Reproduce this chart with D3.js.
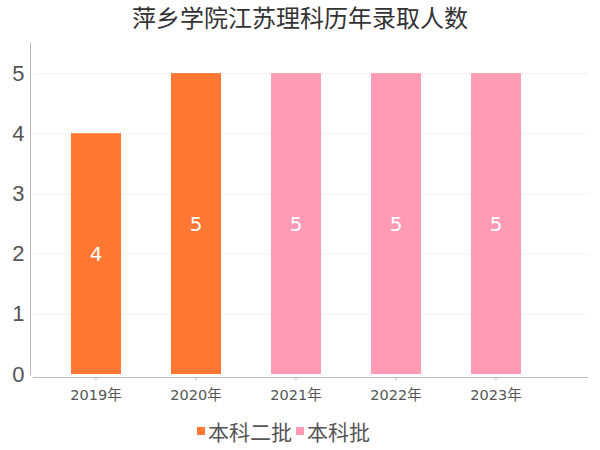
<!DOCTYPE html>
<html>
<head>
<meta charset="utf-8">
<script src="https://cdn.jsdelivr.net/npm/d3@7"></script>
<style>
  body { margin: 0; background: #fff; }
  svg { font-family: "DejaVu Sans", "Noto Sans CJK SC", sans-serif; }
</style>
</head>
<body>
<svg width="600" height="450"></svg>
<script>
const years = ['2019年', '2020年', '2021年', '2022年', '2023年'];
const batches = ['本科二批', '本科二批', '本科批', '本科批', '本科批'];
const counts = [4, 5, 5, 5, 5];
const seriesNames = ['本科二批', '本科批'];
const seriesColors = ['#ff7733', '#ff9bb4'];
const yTicks = [0, 1, 2, 3, 4, 5];

const svg = d3.select('svg');
const color = d3.scaleOrdinal(seriesNames, seriesColors);

const x = d3.scaleBand()
    .domain(years)
    .range([46, 546])
    .paddingInner(0.5)
    .paddingOuter(0.25);

const y = d3.scaleLinear()
    .domain([0, 5.5])
    .range([374, 43]);

// title
svg.append('text')
    .attr('x', 300)
    .attr('y', 27)
    .attr('text-anchor', 'middle')
    .style('font-family', '"Noto Sans CJK SC", sans-serif')
    .style('font-size', '24px')
    .style('fill', '#333')
    .text('萍乡学院江苏理科历年录取人数');

// gridlines
svg.append('g')
    .selectAll('line')
    .data(yTicks.slice(1))
    .enter().append('line')
    .attr('x1', 33).attr('x2', 588)
    .attr('y1', function(d) { return y(d) + 0.5 })
    .attr('y2', function(d) { return y(d) + 0.5 })
    .style('stroke', '#f3f3f3');

// y axis
const yAxis = svg.append('g')
    .attr('transform', 'translate(30.5,0)')
    .call(d3.axisLeft(y).tickValues(yTicks).tickFormat(d3.format('d')).tickSize(0).tickPadding(6));
yAxis.select('.domain').attr('d', 'M0,43V375').style('stroke', '#bbb');
yAxis.selectAll('text')
    .style('font-size', '22px')
    .style('fill', '#555');

// x axis
const xAxis = svg.append('g')
    .attr('transform', 'translate(0,377.5)')
    .call(d3.axisBottom(x).tickSizeInner(3).tickSizeOuter(0).tickPadding(9));
xAxis.select('.domain').attr('d', 'M33,0H588').style('stroke', '#bbb');
xAxis.selectAll('.tick line').style('stroke', '#bbb');
xAxis.selectAll('text')
    .style('font-family', '"DejaVu Sans", "Noto Sans CJK SC", sans-serif')
    .style('font-size', '14.5px')
    .style('fill', '#555');

// bars
const bars = svg.append('g')
    .selectAll('g')
    .data(years)
    .enter().append('g');

bars.append('rect')
    .attr('x', function(d) { return x(d) })
    .attr('width', x.bandwidth())
    .attr('y', function(d, i) { return y(counts[i]) })
    .attr('height', function(d, i) { return y(0) - y(counts[i]) })
    .style('fill', function(d, i) { return color(batches[i]) });

bars.append('text')
    .attr('x', function(d) { return x(d) + x.bandwidth() / 2 })
    .attr('y', function(d, i) { return y(counts[i] / 2) })
    .attr('dy', '0.36em')
    .attr('text-anchor', 'middle')
    .style('font-size', '20px')
    .style('fill', '#fff')
    .text(function(d, i) { return counts[i] });

// legend
const legend = svg.append('g').attr('transform', 'translate(0,432)');
const items = [
    { name: seriesNames[0], x: 197 },
    { name: seriesNames[1], x: 296 }
];
const item = legend.selectAll('g')
    .data(items)
    .enter().append('g')
    .attr('transform', function(d) { return `translate(${d.x},0)` });
item.append('rect')
    .attr('x', 0).attr('y', -5)
    .attr('width', 8).attr('height', 8)
    .style('fill', function(d) { return color(d.name) });
item.append('text')
    .attr('x', 11)
    .attr('dy', '0.36em')
    .style('font-family', '"Noto Sans CJK SC", sans-serif')
    .style('font-size', '21px')
    .style('fill', '#555')
    .text(function(d) { return d.name });
</script>
</body>
</html>
